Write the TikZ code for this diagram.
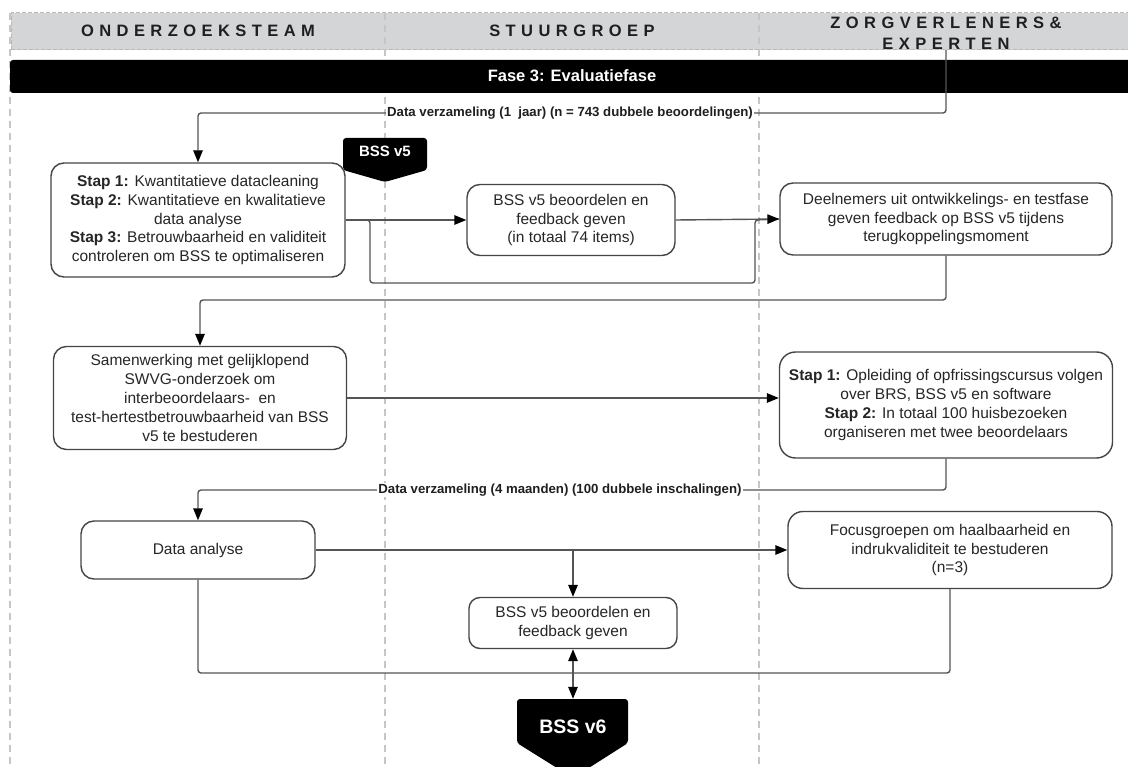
\documentclass[tikz,border=0pt]{standalone}
\usepackage{fontspec}
\setmainfont{Liberation Sans}
\usetikzlibrary{arrows.meta,calc}
\definecolor{linec}{HTML}{555555}
\definecolor{boxc}{HTML}{454545}
\definecolor{textc}{HTML}{262626}
\definecolor{bandc}{HTML}{D4D5D7}
\definecolor{bandedge}{HTML}{B8B8B8}
\definecolor{lanec}{HTML}{C6C6C6}
\tikzset{
  x=1pt, y=-1pt,
  box/.style={draw=boxc, line width=1.4pt, rounded corners=13pt, fill=white,
    align=center, text=textc, inner sep=0pt,
    font=\fontsize{15.5}{18.8}\selectfont},
  conn/.style={draw=linec, line width=1.4pt, rounded corners=3pt},
  arr/.style={-{Triangle[length=12pt,width=9.5pt,color=black]}},
  lab/.style={fill=white, inner xsep=1pt, inner ysep=1pt, text=black!88,
    font=\bfseries\fontsize{13.2}{15}\selectfont},
  lanehead/.style={align=center, text=black!88,
    font=\bfseries\fontsize{16.5}{21}\selectfont\addfontfeature{LetterSpace=33}},
  badgetext/.style={text=white, inner sep=0pt, font=\bfseries},
  lane/.style={draw=lanec, line width=1.5pt, dash pattern=on 7pt off 5pt},
}
\begin{document}
\begin{tikzpicture}
\useasboundingbox (0,0) rectangle (1128,767);

% swimlane header band
\fill[bandc] (11,13) rectangle (1135,50);
\draw[bandedge, line width=1pt, dash pattern=on 4pt off 2pt] (11,50) -- (11,13) -- (1135,13);
\draw[bandedge, line width=1pt, dash pattern=on 4pt off 2pt] (11,50) -- (1135,50);

% lane separators
\draw[lane] (10,13) -- (10,767);
\draw[lane] (385,13) -- (385,767);
\draw[lane] (759,13) -- (759,767);

\node[lanehead] (hA) at (198,31) {ONDERZOEKSTEAM};
\node[lanehead] (hB) at (572,31) {STUURGROEP};
\node[lanehead] (hC) at (946,33) {ZORGVERLENERS\&\\EXPERTEN};

% phase bar
\fill[black, rounded corners=3pt] (10,60) rectangle (1140,93);
\node[text=white, font=\bfseries\fontsize{16.5}{18}\selectfont] (fase) at (572,76) {Fase 3: Evaluatiefase};

% version badges
\fill[black, rounded corners=3pt] (343,170) -- (343,138) -- (427,138) -- (427,170) -- (385,182) -- cycle;
\node[badgetext, font=\bfseries\fontsize{15}{17}\selectfont, minimum width=84pt, minimum height=26pt] (v5) at (385,151) {BSS v5};
\fill[black, rounded corners=3pt] (517,743) -- (517,699) -- (628,699) -- (628,743) -- (573,778) -- cycle;
\node[badgetext, font=\bfseries\fontsize{19.5}{22}\selectfont, minimum width=111pt, minimum height=56pt] (v6) at (573,727) {BSS v6};

% process steps
\node[box, minimum width=294pt, minimum height=114pt] (A) at (198,220)
  {\textbf{Stap 1:} Kwantitatieve datacleaning\\
   \textbf{Stap 2:} Kwantitatieve en kwalitatieve\\
   data analyse\\
   \textbf{Stap 3:} Betrouwbaarheid en validiteit\\
   controleren om BSS te optimaliseren};
\node[box, minimum width=208pt, minimum height=71pt] (B) at (571,220)
  {BSS v5 beoordelen en\\ feedback geven\\ (in totaal 74 items)};
\node[box, minimum width=332pt, minimum height=72pt] (C) at (946,219)
  {Deelnemers uit ontwikkelings- en testfase\\ geven feedback op BSS v5 tijdens\\ terugkoppelingsmoment};
\node[box, minimum width=293pt, minimum height=103pt] (D) at (200,398)
  {Samenwerking met gelijklopend\\ SWVG-onderzoek om\\ interbeoordelaars-\ \ en\\ test-hertestbetrouwbaarheid van BSS\\ v5 te bestuderen};
\node[box, minimum width=333pt, minimum height=106pt, rounded corners=16pt] (E) at (946,405)
  {\textbf{Stap 1:} Opleiding of opfrissingscursus volgen\\ over BRS, BSS v5 en software\\
   \textbf{Stap 2:} In totaal 100 huisbezoeken\\ organiseren met twee beoordelaars};
\node[box, minimum width=234pt, minimum height=58pt] (F) at (198,550) {Data analyse};
\node[box, minimum width=324pt, minimum height=77pt, rounded corners=15pt] (G) at (950,550)
  {Focusgroepen om haalbaarheid en\\ indrukvaliditeit te bestuderen\\ (n=3)};
\node[box, minimum width=208pt, minimum height=51pt, rounded corners=11pt] (H) at (573,623)
  {BSS v5 beoordelen en\\ feedback geven};

% junction points
\coordinate (s1) at (946,50);
\coordinate (k1) at (946,113);
\coordinate (b1) at (370,220);
\coordinate (b2) at (755,220);
\coordinate (k4) at (946,300);
\coordinate (k6) at (946,490);
\coordinate (j7) at (573,550);
\coordinate (j8) at (573,673);

% data collection, year one
\draw[conn, arr] (s1) -- (k1) -| (A.north);
\node[lab] (lab1) at (570,113) {Data verzameling (1\ \ jaar) (n = 743 dubbele beoordelingen)};

% review loop
\draw[conn] (A.east) -- (b1) -- (370,283) -- (755,283) -- (b2) -- (C.west);
\draw[conn, arr] (A.east) -- (B.west);
\draw[conn, arr] (B.east) -- (C.west);

% feedback to reliability study
\draw[conn, arr] (C.south) -- (k4) -| (D.north);
\draw[conn, arr] (D.east) -- (D.east -| E.west);

% data collection, four months
\draw[conn, arr] (E.south) -- (k6) -| (F.north);
\node[lab] (lab2) at (560,490) {Data verzameling (4 maanden) (100 dubbele inschalingen)};

% analysis and focus groups
\draw[conn, arr] (F.east) -- (F.east -| G.west);
\draw[conn, arr] (j7) -- (H.north);
\draw[conn] (F.south) |- (j8);
\draw[conn] (G.south) |- (j8);
\draw[conn, arr] (j8) -- (H.south);
\draw[conn, arr] (j8) -- (v6.north);
\end{tikzpicture}
\end{document}
